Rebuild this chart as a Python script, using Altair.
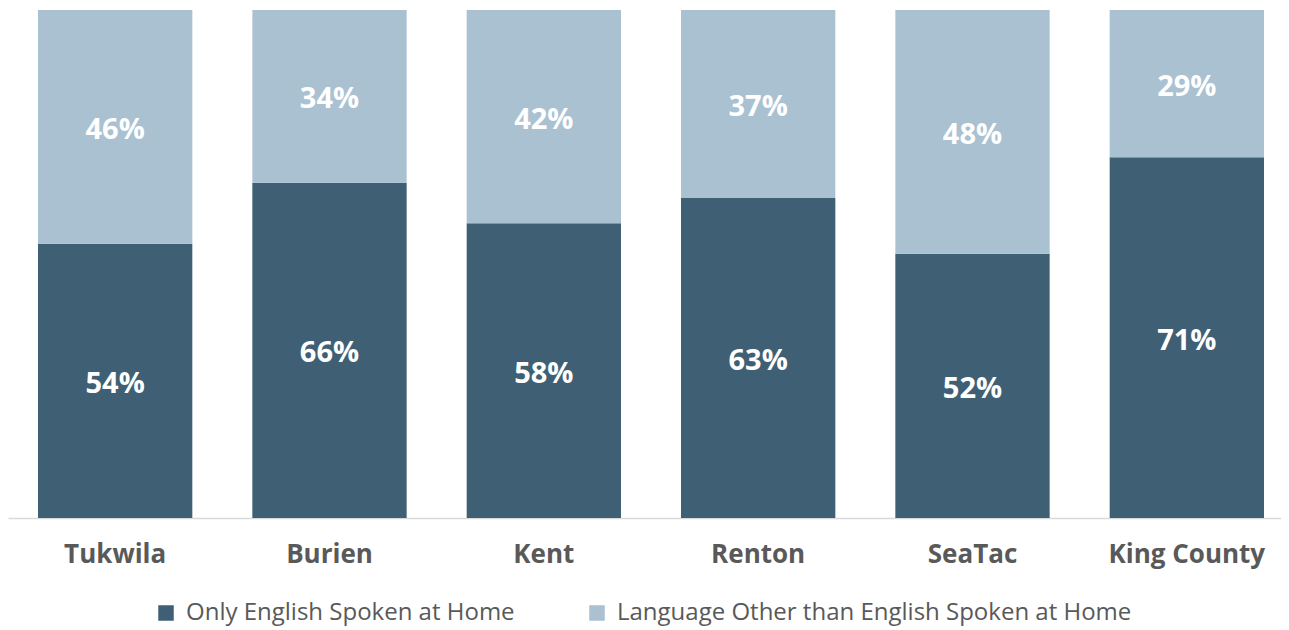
import altair as alt
import pandas as pd

cities = ["Tukwila", "Burien", "Kent", "Renton", "SeaTac", "King County"]
only_english = [54, 66, 58, 63, 52, 71]
other_language = [46, 34, 42, 37, 48, 29]
series_names = ["Only English Spoken at Home", "Language Other than English Spoken at Home"]
colors = ["#3F5F75", "#AAC1D1"]

rows = []
for c, a, b in zip(cities, only_english, other_language):
    rows.append({"city": c, "series": series_names[0], "value": a, "ord": 0})
    rows.append({"city": c, "series": series_names[1], "value": b, "ord": 1})
df = pd.DataFrame(rows)

FONT = "Open Sans"

base = alt.Chart(df).transform_stack(
    stack="value", groupby=["city"], as_=["y0", "y1"], sort=[alt.SortField("ord", order="ascending")]
).transform_calculate(mid="(datum.y0 + datum.y1) / 2", label="datum.value + '%'")

xenc = alt.X("city:N", sort=cities, title=None,
             scale=alt.Scale(paddingInner=0.28, paddingOuter=0.14),
             axis=alt.Axis(labelAngle=0, labelFontSize=26, labelFontWeight="bold",
                           labelColor="#595959", labelFont=FONT, labelPadding=23,
                           ticks=False, domainColor="#D9D9D9", domainWidth=1.5))
yscale = alt.Scale(domain=[0, 100], nice=False)

bars = base.mark_bar().encode(
    x=xenc,
    y=alt.Y("y0:Q", scale=yscale, axis=None),
    y2="y1:Q",
    color=alt.Color("series:N", sort=series_names,
                    scale=alt.Scale(domain=series_names, range=colors),
                    legend=alt.Legend(title=None, orient="none", direction="horizontal",
                                      legendX=146, legendY=591,
                                      symbolType="square", symbolSize=240,
                                      symbolStrokeWidth=0, labelLimit=0,
                                      labelFontSize=24, labelColor="#595959",
                                      labelFont=FONT, columnPadding=70,
                                      symbolOffset=0, labelOffset=8)),
)

labels = base.mark_text(color="white", fontSize=29, fontWeight="bold", font=FONT, dy=3).encode(
    x=alt.X("city:N", sort=cities),
    y=alt.Y("mid:Q", scale=yscale),
    text="label:N",
)

chart = (bars + labels).properties(
    width=1286, height=508,
    padding={"left": 0, "top": 2, "right": -13, "bottom": 4},
).configure_view(stroke=None).configure_axis(grid=False)

chart.save("out.html", embed_options={"renderer": "svg", "actions": False})
